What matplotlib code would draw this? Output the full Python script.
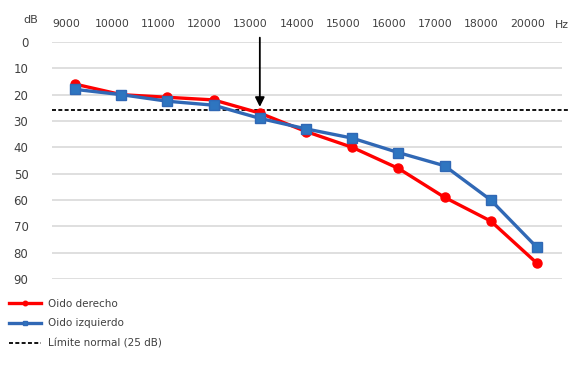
import matplotlib.pyplot as plt

# frecuencias (categorias) y umbrales en dB
freqs = ["9000", "10000", "11000", "12000", "13000", "14000",
         "15000", "16000", "17000", "18000", "20000"]
derecho = [16, 20, 21, 22, 27, 34, 40, 48, 59, 68, 84]
izquierdo = [18, 20, 22.5, 24, 29, 33, 36.5, 42, 47, 60, 78]
limite = 26
arrow_freq = "13000"

x = list(range(len(freqs)))

fig = plt.figure(figsize=(5.8, 3.67), dpi=100)
ax = fig.add_axes([0.0897, 0.2398, 0.879, 0.6458])

for v in range(0, 100, 10):
    ax.axhline(v, color="#d9d9d9", lw=1.2, zorder=0)

ax.plot([-0.5, 10.72], [limite, limite], ls=(0, (2.2, 1.3)), color="black",
        lw=1.3, clip_on=False, zorder=1, label="Límite normal (25 dB)")
ax.plot(x, derecho, color="#ff0000", lw=2.4, marker="o", ms=6.5,
        zorder=3, label="Oido derecho")
ax.plot(x, izquierdo, color="#3068b5", lw=2.4, marker="s", ms=6.5,
        markerfacecolor="#2e75c0", zorder=4, label="Oido izquierdo")

ax.set_xlim(-0.5, 10.54)
ax.set_ylim(90, 0)

# las etiquetas del eje superior quedan un poco a la izquierda de los puntos
ax.xaxis.tick_top()
ax.set_xticks([i - 0.2 for i in x])
ax.set_xticklabels(freqs, fontsize=7.8, color="#404040")
ax.set_yticks(range(0, 100, 10))
ax.set_yticklabels([str(v) for v in range(0, 100, 10)], fontsize=8.5,
                   color="#404040")
ax.tick_params(length=0, axis="x", pad=9)
ax.tick_params(length=0, axis="y", pad=17)
for s in ax.spines.values():
    s.set_visible(False)

fig.text(23 / 580, 1 - 20 / 367, "dB", fontsize=8, color="#404040",
         va="center")
fig.text(555 / 580, 1 - 25 / 367, "Hz", fontsize=7.8, color="#404040",
         va="center")

i = freqs.index(arrow_freq)
ax.annotate("", xy=(i, limite - 0.3), xytext=(i, -2.7),
            arrowprops=dict(arrowstyle="-|>", color="black", lw=1.3,
                            mutation_scale=14),
            annotation_clip=False, zorder=5)

h, l = ax.get_legend_handles_labels()
order = [1, 2, 0]
leg = fig.legend([h[k] for k in order], [l[k] for k in order],
                 loc="upper left", bbox_to_anchor=(0.0, 0.212),
                 frameon=False, fontsize=7.5, handlelength=3.0,
                 labelspacing=0.95, markerscale=0.5, handletextpad=0.7)
for t in leg.get_texts():
    t.set_color("#404040")

fig.savefig("out.png", dpi=100)
